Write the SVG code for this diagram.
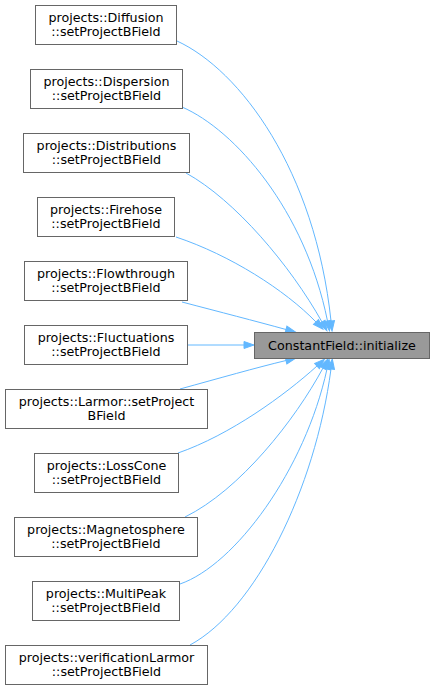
<svg xmlns="http://www.w3.org/2000/svg" width="435" height="691" viewBox="0 0 435 691">
<style>
.n rect{fill:#ffffff;stroke:#666666;stroke-width:1}
.t rect{fill:#999999;stroke:#666666;stroke-width:1}
text{font-family:"DejaVu Sans","Liberation Sans",sans-serif;font-size:12.7px;fill:#000000;text-anchor:middle}
.e path{fill:none;stroke:#63b8ff;stroke-width:1;marker-end:url(#ah)}
</style>
<defs>
<marker id="ah" markerUnits="userSpaceOnUse" markerWidth="12" markerHeight="9" refX="0" refY="3.5" orient="auto" overflow="visible">
<path d="M0,0 L10,3.5 L0,7 z" fill="#63b8ff" stroke="#63b8ff" stroke-width="1"/>
</marker>
</defs>
<rect width="435" height="691" fill="#ffffff"/>
<g id="edges" class="e">
<path d="M177,41 C240,70 315,170 331,321"/>
<path d="M182,107 C235,130 305,210 327.5,321"/>
<path d="M186,173 C235,200 290,265 322,322"/>
<path d="M176,237 C230,255 285,290 316,322"/>
<path d="M182,302 C220,312 255,321 286,329.5"/>
<path d="M187,345 L244,345"/>
<path d="M180,389 C220,378 255,368 286,360.5"/>
<path d="M178,453 C230,435 285,395 317,366"/>
<path d="M185,517 C240,490 295,420 323,368"/>
<path d="M180,584 C235,565 305,470 327,369"/>
<path d="M190,645 C255,610 315,490 331,369"/>
</g>
<g id="target" class="t">
<rect x="254.5" y="332.5" width="175" height="26"/>
<text x="342" y="349.5">ConstantField::initialize</text>
</g>
<g id="diffusion" class="n">
<rect x="35.5" y="5.5" width="141" height="39"/>
<text x="106" y="21.5">projects::Diffusion</text>
<text x="106" y="36">::setProjectBField</text>
</g>
<g id="dispersion" class="n">
<rect x="30.5" y="69.5" width="152" height="39"/>
<text x="106.5" y="85.5">projects::Dispersion</text>
<text x="106.5" y="100">::setProjectBField</text>
</g>
<g id="distributions" class="n">
<rect x="23.5" y="133.5" width="166" height="39"/>
<text x="106.5" y="149.5">projects::Distributions</text>
<text x="106.5" y="164">::setProjectBField</text>
</g>
<g id="firehose" class="n">
<rect x="37.5" y="197.5" width="137" height="39"/>
<text x="106" y="213.5">projects::Firehose</text>
<text x="106" y="228">::setProjectBField</text>
</g>
<g id="flowthrough" class="n">
<rect x="24.5" y="261.5" width="163" height="39"/>
<text x="106" y="277.5">projects::Flowthrough</text>
<text x="106" y="292">::setProjectBField</text>
</g>
<g id="fluctuations" class="n">
<rect x="24.5" y="325.5" width="163" height="39"/>
<text x="106" y="341.5">projects::Fluctuations</text>
<text x="106" y="356">::setProjectBField</text>
</g>
<g id="larmor" class="n">
<rect x="5.5" y="389.5" width="202" height="39"/>
<text x="106.5" y="405.5">projects::Larmor::setProject</text>
<text x="106.5" y="420">BField</text>
</g>
<g id="losscone" class="n">
<rect x="34.5" y="453.5" width="144" height="39"/>
<text x="106.5" y="469.5">projects::LossCone</text>
<text x="106.5" y="484">::setProjectBField</text>
</g>
<g id="magnetosphere" class="n">
<rect x="14.5" y="517.5" width="183" height="39"/>
<text x="106" y="533.5">projects::Magnetosphere</text>
<text x="106" y="548">::setProjectBField</text>
</g>
<g id="multipeak" class="n">
<rect x="32.5" y="581.5" width="147" height="39"/>
<text x="106" y="597.5">projects::MultiPeak</text>
<text x="106" y="612">::setProjectBField</text>
</g>
<g id="verificationlarmor" class="n">
<rect x="5.5" y="645.5" width="202" height="39"/>
<text x="106.5" y="661.5">projects::verificationLarmor</text>
<text x="106.5" y="676">::setProjectBField</text>
</g>
</svg>
